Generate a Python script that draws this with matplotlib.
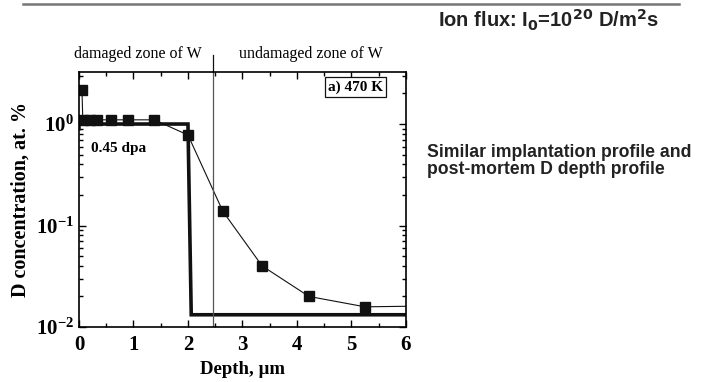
import matplotlib
matplotlib.use("Agg")
import matplotlib.pyplot as plt
from matplotlib.ticker import LogLocator, NullFormatter, MultipleLocator
from matplotlib.lines import Line2D

# measured NRA depth profile (squares)
depth_pts = [0.055, 0.07, 0.2, 0.33, 0.59, 0.9, 1.38, 2.0, 2.64, 3.36, 4.22, 5.25, 6.0]
conc_pts = [2.17, 1.1, 1.1, 1.1, 1.1, 1.1, 1.1, 0.78, 0.138, 0.040, 0.020, 0.0158, 0.016]
marker_mask = [True] * 12 + [False]

# implantation (damage) profile, thick line
impl_depth = [0.0, 0.0, 2.0, 2.06, 6.0]
impl_conc = [0.9, 1.0, 1.0, 0.0132, 0.0132]

boundary = 2.46

serif = ["Liberation Serif", "DejaVu Serif"]
sans = ["Liberation Sans", "DejaVu Sans"]

fig = plt.figure(figsize=(7.07, 3.82), dpi=100)
ax = fig.add_axes([0.1117, 0.144, 0.4625, 0.668])

ax.plot(impl_depth, impl_conc, color="#111111", lw=2.6, solid_joinstyle="miter")
ax.plot(depth_pts, conc_pts, color="#111111", lw=0.8)
mk_x = [d for d, m in zip(depth_pts, marker_mask) if m]
mk_y = [c for c, m in zip(conc_pts, marker_mask) if m]
ax.plot(mk_x, mk_y, ls="none", marker="s", ms=7.5, color="#111111")

ax.set_yscale("log")
ax.set_xlim(0, 6)
ax.set_ylim(0.01, 3.27)
ax.xaxis.set_major_locator(MultipleLocator(1))
ax.xaxis.set_minor_locator(MultipleLocator(0.5))
ax.yaxis.set_major_locator(LogLocator(base=10, numticks=10))
ax.yaxis.set_minor_locator(LogLocator(base=10, subs=range(2, 10), numticks=10))
ax.yaxis.set_minor_formatter(NullFormatter())
ax.tick_params(which="both", direction="in", top=True, right=True, width=1.0)
ax.tick_params(which="major", length=5, labelsize=15)
ax.tick_params(axis="x", which="major", pad=6)
ax.tick_params(which="minor", length=3)
for lab in ax.get_xticklabels() + ax.get_yticklabels():
    lab.set_family(serif)
    lab.set_fontweight("bold")
for sp in ax.spines.values():
    sp.set_linewidth(1.2)

ax.set_xlabel("Depth, \u00b5m", family=serif, fontweight="bold", fontsize=13.5, labelpad=4)
ax.set_ylabel("D concentration, at. %", family=serif, fontweight="bold", fontsize=14.5, labelpad=4)

# zone boundary line extending above the axes
ax.axvline(boundary, color="#555555", lw=0.9)
ax.add_line(Line2D([boundary, boundary], [1.0, 1.065], transform=ax.get_xaxis_transform(),
                   color="#111111", lw=0.9, clip_on=False))

ax.text(0.18, 1.04, "damaged zone of W", transform=ax.transAxes, ha="center", va="bottom",
        family=serif, fontsize=11.5)
ax.text(0.71, 1.04, "undamaged zone of W", transform=ax.transAxes, ha="center", va="bottom",
        family=serif, fontsize=11.5)
ax.text(0.93, 0.94, "a) 470 K", transform=ax.transAxes, ha="right", va="center",
        family=serif, fontsize=11, fontweight="bold",
        bbox=dict(boxstyle="square,pad=0.2", fc="white", ec="#111111", lw=0.9))
ax.text(0.037, 0.70, "0.45 dpa", transform=ax.transAxes, ha="left", va="center",
        family=serif, fontsize=11, fontweight="bold")

# slide decorations
fig.add_artist(Line2D([0.0325, 0.960], [0.9895, 0.9895], color="#777777", lw=1.8))
fig.text(0.6195, 0.927, r"Ion flux: I$_\mathbf{0}$=10$^\mathbf{20}$ D/m$^\mathbf{2}$s",
         family=sans, fontweight="bold", fontsize=14.5, ha="left", va="baseline", color="#222222")
fig.text(0.604, 0.579, "Similar implantation profile and\npost-mortem D depth profile",
         family=sans, fontweight="bold", fontsize=12.7, ha="left", va="center",
         color="#222222", linespacing=1.0)

fig.savefig("out.png", dpi=100)
